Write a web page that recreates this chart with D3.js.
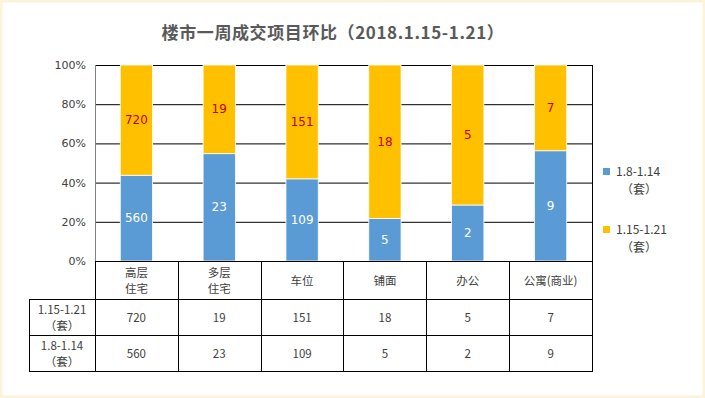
<!DOCTYPE html>
<html>
<head>
<meta charset="utf-8">
<script src="https://cdn.jsdelivr.net/npm/d3@7"></script>
<style>
  body { margin: 0; background: #fff; }
  svg { display: block; font-family: "Noto Sans CJK SC", "DejaVu Sans", sans-serif; }
</style>
</head>
<body>
<svg id="chart" width="705" height="398"></svg>
<script>
// data
var categories = ["高层\n住宅", "多层\n住宅", "车位", "铺面", "办公", "公寓(商业)"];
var seriesNames = ["1.8-1.14\n（套）", "1.15-1.21\n（套）"];
var lastWeek = [560, 23, 109, 5, 2, 9];
var thisWeek = [720, 19, 151, 18, 5, 7];
var yTicks = [0, 0.2, 0.4, 0.6, 0.8, 1];

var colors = ["#5B9BD5", "#FFC000"];
var labelColors = ["#ffffff", "#C00000"];

var svg = d3.select("#chart");
var W = +svg.attr("width"), H = +svg.attr("height");

// cream frame
svg.append("rect")
	.attr("x", 1).attr("y", 1).attr("width", W - 2).attr("height", H - 2)
	.attr("fill", "#fff").attr("stroke", "#FBF4D9").attr("stroke-width", 3)

var plot = {left: 95, right: 592, top: 65, bottom: 261}
var rows = [261, 299, 335, 371]
var tableLeft = 29

var x = d3.scaleBand()
	.domain(categories)
	.range([plot.left, plot.right])
	.padding(0)

var y = d3.scaleLinear()
	.domain([0, 1])
	.range([plot.bottom, plot.top])

// title
svg.append("text")
	.attr("x", 333).attr("y", 39)
	.attr("text-anchor", "middle")
	.attr("fill", "#595959")
	.attr("font-size", 17)
	.attr("font-weight", "bold")
	.attr("letter-spacing", 0.6)
	.text("楼市一周成交项目环比（2018.1.15-1.21）")

// y axis with grid
var yAxis = svg.append("g")
	.attr("transform", `translate(${plot.left},0)`)
	.call(d3.axisLeft(y).tickValues(yTicks).tickFormat(d3.format(".0%"))
		.tickSize(-(plot.right - plot.left)).tickPadding(9))
yAxis.select(".domain").remove()
yAxis.selectAll(".tick line").attr("stroke", "#000").attr("stroke-width", 1)
yAxis.selectAll(".tick text")
	.attr("fill", "#404040").attr("font-size", 11)
	.attr("font-family", "DejaVu Sans, sans-serif")

// left axis line
svg.append("line")
	.attr("x1", plot.left + 0.5).attr("x2", plot.left + 0.5)
	.attr("y1", plot.top).attr("y2", plot.bottom)
	.attr("stroke", "#808080")

// stacked percentage bars
var table = categories.map((c, i) => ({cat: c, a: lastWeek[i], b: thisWeek[i]}))
var stack = d3.stack().keys(["a", "b"]).offset(d3.stackOffsetExpand)(table)

var barW = x.bandwidth() * 0.39

var layer = svg.selectAll("g.layer")
	.data(stack)
	.enter().append("g")
	.attr("class", "layer")
	.attr("fill", (d, i) => colors[i])

layer.selectAll("rect")
	.data(d => d)
	.enter().append("rect")
	.attr("x", d => x(d.data.cat) + (x.bandwidth() - barW) / 2)
	.attr("y", d => y(d[1]))
	.attr("width", barW)
	.attr("height", d => y(d[0]) - y(d[1]))
	.attr("stroke", "#fff")
	.attr("stroke-width", 0.8)

stack.forEach(function(s, si) {
	svg.append("g").selectAll("text")
		.data(s)
		.enter().append("text")
		.attr("x", d => x(d.data.cat) + x.bandwidth() / 2)
		.attr("y", d => (y(d[0]) + y(d[1])) / 2 + 4)
		.attr("text-anchor", "middle")
		.attr("font-size", 12)
		.attr("font-family", "DejaVu Sans, sans-serif")
		.attr("fill", labelColors[si])
		.text(d => d.data[s.key])
})

// data table
var grid = svg.append("g").attr("stroke", "#000").attr("stroke-width", 1)
grid.append("line").attr("x1", plot.left).attr("x2", plot.right)
	.attr("y1", rows[0] + 0.5).attr("y2", rows[0] + 0.5)
rows.slice(1).forEach(r => grid.append("line")
	.attr("x1", tableLeft).attr("x2", plot.right)
	.attr("y1", r + 0.5).attr("y2", r + 0.5))
grid.append("line").attr("x1", tableLeft + 0.5).attr("x2", tableLeft + 0.5)
	.attr("y1", rows[1]).attr("y2", rows[3] + 1)
grid.append("line").attr("x1", plot.left + 0.5).attr("x2", plot.left + 0.5)
	.attr("y1", rows[0]).attr("y2", rows[3] + 1)
categories.forEach(c => grid.append("line")
	.attr("x1", Math.round(x(c) + x.bandwidth()) + 0.5)
	.attr("x2", Math.round(x(c) + x.bandwidth()) + 0.5)
	.attr("y1", (c == categories[categories.length - 1]) ? plot.top : rows[0])
	.attr("y2", rows[3] + 1))

// one text element per line
function multiline(sel, str, cx, cy, lh) {
	var parts = str.split("\n")
	parts.forEach((p, i) => sel.append("text")
		.attr("text-anchor", "middle")
		.attr("font-size", 11.5)
		.attr("fill", "#404040")
		.attr("x", cx)
		.attr("y", cy + (i - (parts.length - 1) / 2) * lh + 4.5)
		.text(p))
}

var cells = svg.append("g")
categories.forEach(c => multiline(cells, c, x(c) + x.bandwidth() / 2, (rows[0] + rows[1]) / 2, 16))
var rowLabels = [seriesNames[1], seriesNames[0]]
var rowValues = [thisWeek, lastWeek]
rowLabels.forEach((lab, ri) => {
	var cy = (rows[ri + 1] + rows[ri + 2]) / 2
	multiline(cells, lab, (tableLeft + plot.left) / 2, cy, 16)
	categories.forEach((c, ci) => multiline(cells, String(rowValues[ri][ci]), x(c) + x.bandwidth() / 2, cy, 16))
})

// legend
var legend = svg.append("g").selectAll("g")
	.data(seriesNames)
	.enter().append("g")
	.attr("transform", (d, i) => `translate(603,${168 + i * 58})`)
legend.append("rect")
	.attr("width", 7).attr("height", 7)
	.attr("fill", (d, i) => colors[i])
legend.append("text")
	.attr("x", 13).attr("y", 8)
	.attr("font-size", 12)
	.attr("fill", "#404040")
	.text(d => d.split("\n")[0])
legend.append("text")
	.attr("x", 18).attr("y", 26)
	.attr("font-size", 12)
	.attr("fill", "#404040")
	.text(d => d.split("\n")[1])
</script>
</body>
</html>
